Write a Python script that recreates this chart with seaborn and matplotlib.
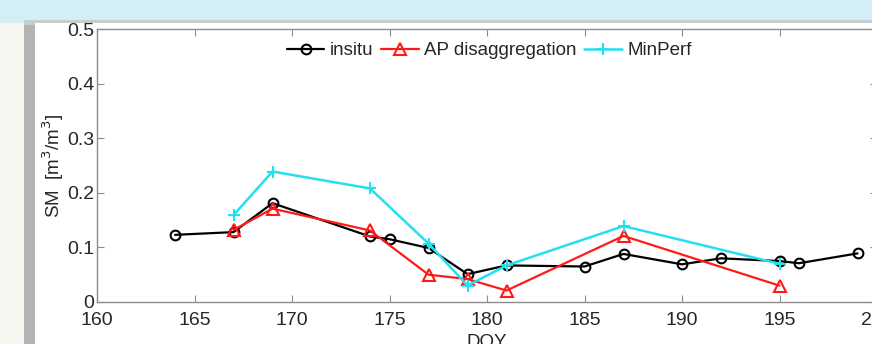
import pandas as pd
import matplotlib.pyplot as plt
import seaborn as sns
from matplotlib.patches import Rectangle

# =========================================================
# DADOS
# =========================================================

insitu_doy = [164, 167, 169, 174, 175, 177, 179, 181, 185, 187, 190, 192, 195, 196, 199]
insitu_sm = [0.123, 0.128, 0.181, 0.120, 0.115, 0.099, 0.051, 0.067, 0.065, 0.088, 0.069, 0.080, 0.075, 0.071, 0.089]

ap_doy = [167, 169, 174, 177, 179, 181, 187, 195]
ap_sm = [0.132, 0.171, 0.131, 0.050, 0.042, 0.021, 0.121, 0.030]

minperf_doy = [167, 169, 174, 177, 179, 181, 187, 195]
minperf_sm = [0.159, 0.239, 0.208, 0.107, 0.030, 0.067, 0.139, 0.070]

x_ticks = [160, 165, 170, 175, 180, 185, 190, 195, 200]
y_ticks = [0, 0.1, 0.2, 0.3, 0.4, 0.5]

# =========================================================
# ESTILO
# =========================================================

sns.set_style("white")
plt.rcParams['font.family'] = ['Liberation Sans', 'DejaVu Sans']
plt.rcParams.update({
    'font.size': 13.5,
    'xtick.labelsize': 14,
    'ytick.labelsize': 14,
    'legend.fontsize': 13.5,
})

W, H = 872, 344
fig = plt.figure(figsize=(W / 100, H / 100), dpi=100, facecolor='#f8f6f0')

# fundo do slide: faixa azul no topo, sombra e painel branco (atrás dos eixos)
fig.patches.append(Rectangle((0, (H - 23) / H), 1, 23 / H, transform=fig.transFigure,
                             facecolor='#d3eef6', edgecolor='none', zorder=-10))
fig.patches.append(Rectangle((24 / W, 0), 12 / W, (H - 20) / H, transform=fig.transFigure,
                             facecolor='#b4b4b4', edgecolor='none', zorder=-10))
fig.patches.append(Rectangle((24 / W, (H - 25) / H), 1, 5 / H, transform=fig.transFigure,
                             facecolor='#c8cccd', edgecolor='none', zorder=-10))
fig.patches.append(Rectangle((35 / W, 0), 1, (H - 23) / H, transform=fig.transFigure,
                             facecolor='white', edgecolor='none', zorder=-9))

ax = fig.add_axes([97 / W, 42 / H, 780 / W, 273 / H])
ax.set_facecolor('white')

df_in = pd.DataFrame({'DOY': insitu_doy, 'SM': insitu_sm})
df_ap = pd.DataFrame({'DOY': ap_doy, 'SM': ap_sm})
df_mp = pd.DataFrame({'DOY': minperf_doy, 'SM': minperf_sm})

sns.lineplot(data=df_in, x='DOY', y='SM', ax=ax, color='black', lw=1.6,
             marker='o', markersize=7, markerfacecolor='none', markeredgecolor='black',
             markeredgewidth=1.5, label='insitu')
sns.lineplot(data=df_ap, x='DOY', y='SM', ax=ax, color='#ff1a1a', lw=1.6,
             marker='^', markersize=8, markerfacecolor='none', markeredgecolor='#ff1a1a',
             markeredgewidth=1.5, label='AP disaggregation')
sns.lineplot(data=df_mp, x='DOY', y='SM', ax=ax, color='#22e0f0', lw=1.8,
             marker='+', markersize=8, markeredgecolor='#22e0f0',
             markeredgewidth=1.5, label='MinPerf')

ax.set_xlim(160, 200)
ax.set_ylim(0, 0.5)
ax.set_xticks(x_ticks)
ax.set_xticklabels([str(t) for t in x_ticks])
ax.set_yticks(y_ticks)
ax.set_yticklabels(['0', '0.1', '0.2', '0.3', '0.4', '0.5'])
ax.tick_params(direction='in', length=5, width=0.8, color='#8c8c8c',
               top=True, right=True, left=True, bottom=True)
ax.tick_params(axis='x', pad=7)
ax.tick_params(axis='y', pad=2)

for s in ax.spines.values():
    s.set_color('#8c8c8c')
    s.set_linewidth(1.0)

ax.set_xlabel('DOY', labelpad=4)
ax.set_ylabel('SM  [m$^3$/m$^3$]', labelpad=1)

leg = ax.legend(loc='upper center', bbox_to_anchor=(0.503, 1.0), ncol=3, frameon=False,
                handlelength=2.0, handletextpad=0.3, columnspacing=0.4, borderaxespad=0.3)

fig.savefig('out.png', dpi=100, facecolor=fig.get_facecolor())
